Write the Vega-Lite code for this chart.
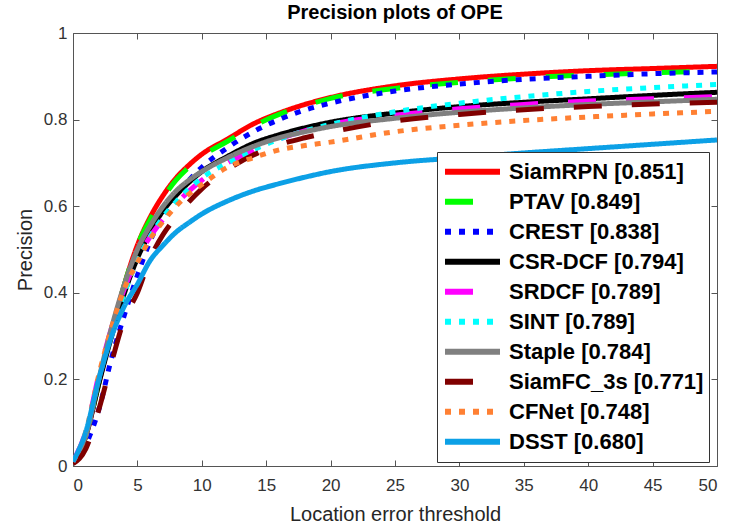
{
  "$schema": "https://vega.github.io/schema/vega-lite/v6.json",
  "width": 644,
  "height": 433,
  "autosize": {"type": "none"},
  "padding": {"left": 73, "top": 33, "right": 17, "bottom": 61},
  "title": {"text": "Precision plots of OPE", "font": "Liberation Sans", "fontSize": 20, "fontWeight": "bold", "color": "#000000", "offset": 1, "anchor": "middle"},
  "config": {
    "view": {"stroke": null},
    "font": "Liberation Sans",
    "legend": {
      "orient": "none", "legendX": 364, "legendY": 119,
      "strokeColor": "#333333", "fillColor": "#ffffff", "padding": 5, "cornerRadius": 0,
      "symbolType": "stroke", "symbolSize": 3025, "symbolStrokeWidth": 6,
      "labelFont": "Liberation Sans", "labelFontSize": 22, "labelFontWeight": "bold", "labelColor": "#000000",
      "labelOffset": 6, "clipHeight": 29.6, "rowPadding": 0, "labelLimit": 400
    }
  },
  "data": {"values": [
{"t":"SiamRPN [0.851]","x":0,"y":0.01},{"t":"SiamRPN [0.851]","x":1,"y":0.07},{"t":"SiamRPN [0.851]","x":2,"y":0.19},{"t":"SiamRPN [0.851]","x":3,"y":0.31},{"t":"SiamRPN [0.851]","x":4,"y":0.42},{"t":"SiamRPN [0.851]","x":5,"y":0.51},{"t":"SiamRPN [0.851]","x":6,"y":0.575},{"t":"SiamRPN [0.851]","x":7,"y":0.625},{"t":"SiamRPN [0.851]","x":8,"y":0.665},{"t":"SiamRPN [0.851]","x":9,"y":0.695},{"t":"SiamRPN [0.851]","x":10,"y":0.72},{"t":"SiamRPN [0.851]","x":12,"y":0.755},{"t":"SiamRPN [0.851]","x":14,"y":0.79},{"t":"SiamRPN [0.851]","x":16,"y":0.815},{"t":"SiamRPN [0.851]","x":18,"y":0.835},{"t":"SiamRPN [0.851]","x":20,"y":0.851},{"t":"SiamRPN [0.851]","x":25,"y":0.878},{"t":"SiamRPN [0.851]","x":30,"y":0.894},{"t":"SiamRPN [0.851]","x":35,"y":0.905},{"t":"SiamRPN [0.851]","x":40,"y":0.913},{"t":"SiamRPN [0.851]","x":45,"y":0.918},{"t":"SiamRPN [0.851]","x":50,"y":0.923},
{"t":"PTAV [0.849]","x":0,"y":0.01},{"t":"PTAV [0.849]","x":1,"y":0.07},{"t":"PTAV [0.849]","x":2,"y":0.19},{"t":"PTAV [0.849]","x":3,"y":0.31},{"t":"PTAV [0.849]","x":4,"y":0.42},{"t":"PTAV [0.849]","x":5,"y":0.51},{"t":"PTAV [0.849]","x":6,"y":0.57},{"t":"PTAV [0.849]","x":7,"y":0.62},{"t":"PTAV [0.849]","x":8,"y":0.66},{"t":"PTAV [0.849]","x":9,"y":0.69},{"t":"PTAV [0.849]","x":10,"y":0.715},{"t":"PTAV [0.849]","x":12,"y":0.75},{"t":"PTAV [0.849]","x":14,"y":0.785},{"t":"PTAV [0.849]","x":16,"y":0.812},{"t":"PTAV [0.849]","x":18,"y":0.832},{"t":"PTAV [0.849]","x":20,"y":0.849},{"t":"PTAV [0.849]","x":25,"y":0.872},{"t":"PTAV [0.849]","x":30,"y":0.886},{"t":"PTAV [0.849]","x":35,"y":0.896},{"t":"PTAV [0.849]","x":40,"y":0.903},{"t":"PTAV [0.849]","x":45,"y":0.908},{"t":"PTAV [0.849]","x":50,"y":0.912},
{"t":"CREST [0.838]","x":0,"y":0.01},{"t":"CREST [0.838]","x":1,"y":0.05},{"t":"CREST [0.838]","x":2,"y":0.13},{"t":"CREST [0.838]","x":3,"y":0.25},{"t":"CREST [0.838]","x":4,"y":0.35},{"t":"CREST [0.838]","x":5,"y":0.44},{"t":"CREST [0.838]","x":6,"y":0.52},{"t":"CREST [0.838]","x":7,"y":0.58},{"t":"CREST [0.838]","x":8,"y":0.625},{"t":"CREST [0.838]","x":9,"y":0.66},{"t":"CREST [0.838]","x":10,"y":0.69},{"t":"CREST [0.838]","x":12,"y":0.735},{"t":"CREST [0.838]","x":14,"y":0.772},{"t":"CREST [0.838]","x":16,"y":0.8},{"t":"CREST [0.838]","x":18,"y":0.822},{"t":"CREST [0.838]","x":20,"y":0.838},{"t":"CREST [0.838]","x":25,"y":0.866},{"t":"CREST [0.838]","x":30,"y":0.882},{"t":"CREST [0.838]","x":35,"y":0.893},{"t":"CREST [0.838]","x":40,"y":0.9},{"t":"CREST [0.838]","x":45,"y":0.906},{"t":"CREST [0.838]","x":50,"y":0.91},
{"t":"CSR-DCF [0.794]","x":0,"y":0.01},{"t":"CSR-DCF [0.794]","x":1,"y":0.07},{"t":"CSR-DCF [0.794]","x":2,"y":0.19},{"t":"CSR-DCF [0.794]","x":3,"y":0.3},{"t":"CSR-DCF [0.794]","x":4,"y":0.4},{"t":"CSR-DCF [0.794]","x":5,"y":0.48},{"t":"CSR-DCF [0.794]","x":6,"y":0.54},{"t":"CSR-DCF [0.794]","x":7,"y":0.59},{"t":"CSR-DCF [0.794]","x":8,"y":0.625},{"t":"CSR-DCF [0.794]","x":9,"y":0.655},{"t":"CSR-DCF [0.794]","x":10,"y":0.68},{"t":"CSR-DCF [0.794]","x":12,"y":0.715},{"t":"CSR-DCF [0.794]","x":14,"y":0.745},{"t":"CSR-DCF [0.794]","x":16,"y":0.765},{"t":"CSR-DCF [0.794]","x":18,"y":0.781},{"t":"CSR-DCF [0.794]","x":20,"y":0.794},{"t":"CSR-DCF [0.794]","x":25,"y":0.815},{"t":"CSR-DCF [0.794]","x":30,"y":0.83},{"t":"CSR-DCF [0.794]","x":35,"y":0.84},{"t":"CSR-DCF [0.794]","x":40,"y":0.848},{"t":"CSR-DCF [0.794]","x":45,"y":0.856},{"t":"CSR-DCF [0.794]","x":50,"y":0.863},
{"t":"SRDCF [0.789]","x":0,"y":0.01},{"t":"SRDCF [0.789]","x":1,"y":0.08},{"t":"SRDCF [0.789]","x":2,"y":0.21},{"t":"SRDCF [0.789]","x":3,"y":0.32},{"t":"SRDCF [0.789]","x":4,"y":0.41},{"t":"SRDCF [0.789]","x":5,"y":0.48},{"t":"SRDCF [0.789]","x":6,"y":0.53},{"t":"SRDCF [0.789]","x":7,"y":0.57},{"t":"SRDCF [0.789]","x":8,"y":0.605},{"t":"SRDCF [0.789]","x":9,"y":0.635},{"t":"SRDCF [0.789]","x":10,"y":0.66},{"t":"SRDCF [0.789]","x":12,"y":0.7},{"t":"SRDCF [0.789]","x":14,"y":0.73},{"t":"SRDCF [0.789]","x":16,"y":0.755},{"t":"SRDCF [0.789]","x":18,"y":0.774},{"t":"SRDCF [0.789]","x":20,"y":0.789},{"t":"SRDCF [0.789]","x":25,"y":0.81},{"t":"SRDCF [0.789]","x":30,"y":0.825},{"t":"SRDCF [0.789]","x":35,"y":0.835},{"t":"SRDCF [0.789]","x":40,"y":0.843},{"t":"SRDCF [0.789]","x":45,"y":0.848},{"t":"SRDCF [0.789]","x":50,"y":0.853},
{"t":"SINT [0.789]","x":0,"y":0.01},{"t":"SINT [0.789]","x":1,"y":0.07},{"t":"SINT [0.789]","x":2,"y":0.2},{"t":"SINT [0.789]","x":3,"y":0.31},{"t":"SINT [0.789]","x":4,"y":0.4},{"t":"SINT [0.789]","x":5,"y":0.475},{"t":"SINT [0.789]","x":6,"y":0.53},{"t":"SINT [0.789]","x":7,"y":0.575},{"t":"SINT [0.789]","x":8,"y":0.61},{"t":"SINT [0.789]","x":9,"y":0.64},{"t":"SINT [0.789]","x":10,"y":0.665},{"t":"SINT [0.789]","x":12,"y":0.7},{"t":"SINT [0.789]","x":14,"y":0.73},{"t":"SINT [0.789]","x":16,"y":0.755},{"t":"SINT [0.789]","x":18,"y":0.774},{"t":"SINT [0.789]","x":20,"y":0.789},{"t":"SINT [0.789]","x":25,"y":0.818},{"t":"SINT [0.789]","x":30,"y":0.838},{"t":"SINT [0.789]","x":35,"y":0.853},{"t":"SINT [0.789]","x":40,"y":0.865},{"t":"SINT [0.789]","x":45,"y":0.874},{"t":"SINT [0.789]","x":50,"y":0.881},
{"t":"Staple [0.784]","x":0,"y":0.01},{"t":"Staple [0.784]","x":1,"y":0.07},{"t":"Staple [0.784]","x":2,"y":0.2},{"t":"Staple [0.784]","x":3,"y":0.32},{"t":"Staple [0.784]","x":4,"y":0.42},{"t":"Staple [0.784]","x":5,"y":0.5},{"t":"Staple [0.784]","x":6,"y":0.555},{"t":"Staple [0.784]","x":7,"y":0.6},{"t":"Staple [0.784]","x":8,"y":0.635},{"t":"Staple [0.784]","x":9,"y":0.66},{"t":"Staple [0.784]","x":10,"y":0.68},{"t":"Staple [0.784]","x":12,"y":0.712},{"t":"Staple [0.784]","x":14,"y":0.738},{"t":"Staple [0.784]","x":16,"y":0.758},{"t":"Staple [0.784]","x":18,"y":0.772},{"t":"Staple [0.784]","x":20,"y":0.784},{"t":"Staple [0.784]","x":25,"y":0.803},{"t":"Staple [0.784]","x":30,"y":0.817},{"t":"Staple [0.784]","x":35,"y":0.827},{"t":"Staple [0.784]","x":40,"y":0.835},{"t":"Staple [0.784]","x":45,"y":0.841},{"t":"Staple [0.784]","x":50,"y":0.847},
{"t":"SiamFC_3s [0.771]","x":0,"y":0.005},{"t":"SiamFC_3s [0.771]","x":1,"y":0.04},{"t":"SiamFC_3s [0.771]","x":2,"y":0.13},{"t":"SiamFC_3s [0.771]","x":3,"y":0.24},{"t":"SiamFC_3s [0.771]","x":4,"y":0.34},{"t":"SiamFC_3s [0.771]","x":5,"y":0.4},{"t":"SiamFC_3s [0.771]","x":6,"y":0.48},{"t":"SiamFC_3s [0.771]","x":7,"y":0.535},{"t":"SiamFC_3s [0.771]","x":8,"y":0.575},{"t":"SiamFC_3s [0.771]","x":9,"y":0.61},{"t":"SiamFC_3s [0.771]","x":10,"y":0.64},{"t":"SiamFC_3s [0.771]","x":12,"y":0.685},{"t":"SiamFC_3s [0.771]","x":14,"y":0.718},{"t":"SiamFC_3s [0.771]","x":16,"y":0.742},{"t":"SiamFC_3s [0.771]","x":18,"y":0.758},{"t":"SiamFC_3s [0.771]","x":20,"y":0.771},{"t":"SiamFC_3s [0.771]","x":25,"y":0.797},{"t":"SiamFC_3s [0.771]","x":30,"y":0.812},{"t":"SiamFC_3s [0.771]","x":35,"y":0.823},{"t":"SiamFC_3s [0.771]","x":40,"y":0.83},{"t":"SiamFC_3s [0.771]","x":45,"y":0.836},{"t":"SiamFC_3s [0.771]","x":50,"y":0.84},
{"t":"CFNet [0.748]","x":0,"y":0.01},{"t":"CFNet [0.748]","x":1,"y":0.08},{"t":"CFNet [0.748]","x":2,"y":0.21},{"t":"CFNet [0.748]","x":3,"y":0.32},{"t":"CFNet [0.748]","x":4,"y":0.41},{"t":"CFNet [0.748]","x":5,"y":0.47},{"t":"CFNet [0.748]","x":6,"y":0.525},{"t":"CFNet [0.748]","x":7,"y":0.565},{"t":"CFNet [0.748]","x":8,"y":0.6},{"t":"CFNet [0.748]","x":9,"y":0.628},{"t":"CFNet [0.748]","x":10,"y":0.65},{"t":"CFNet [0.748]","x":12,"y":0.69},{"t":"CFNet [0.748]","x":14,"y":0.712},{"t":"CFNet [0.748]","x":16,"y":0.73},{"t":"CFNet [0.748]","x":18,"y":0.74},{"t":"CFNet [0.748]","x":20,"y":0.748},{"t":"CFNet [0.748]","x":25,"y":0.772},{"t":"CFNet [0.748]","x":30,"y":0.787},{"t":"CFNet [0.748]","x":35,"y":0.798},{"t":"CFNet [0.748]","x":40,"y":0.806},{"t":"CFNet [0.748]","x":45,"y":0.813},{"t":"CFNet [0.748]","x":50,"y":0.819},
{"t":"DSST [0.680]","x":0,"y":0.01},{"t":"DSST [0.680]","x":1,"y":0.08},{"t":"DSST [0.680]","x":2,"y":0.2},{"t":"DSST [0.680]","x":3,"y":0.3},{"t":"DSST [0.680]","x":4,"y":0.37},{"t":"DSST [0.680]","x":5,"y":0.42},{"t":"DSST [0.680]","x":6,"y":0.475},{"t":"DSST [0.680]","x":7,"y":0.51},{"t":"DSST [0.680]","x":8,"y":0.54},{"t":"DSST [0.680]","x":9,"y":0.562},{"t":"DSST [0.680]","x":10,"y":0.582},{"t":"DSST [0.680]","x":12,"y":0.612},{"t":"DSST [0.680]","x":14,"y":0.635},{"t":"DSST [0.680]","x":16,"y":0.652},{"t":"DSST [0.680]","x":18,"y":0.667},{"t":"DSST [0.680]","x":20,"y":0.68},{"t":"DSST [0.680]","x":25,"y":0.7},{"t":"DSST [0.680]","x":30,"y":0.712},{"t":"DSST [0.680]","x":35,"y":0.723},{"t":"DSST [0.680]","x":40,"y":0.733},{"t":"DSST [0.680]","x":45,"y":0.743},{"t":"DSST [0.680]","x":50,"y":0.753}
  ]},
  "layer": [
    {
      "mark": {"type": "line", "strokeWidth": 5, "interpolate": "monotone", "strokeCap": "butt", "clip": true},
      "encoding": {
        "x": {"field": "x", "type": "quantitative", "scale": {"domain": [0, 50], "nice": false},
          "axis": {"orient": "bottom", "values": [0,5,10,15,20,25,30,35,40,45,50], "grid": false, "tickSize": -6, "labelPadding": 17,
            "domainColor": "#555555", "tickColor": "#555555", "labelFontSize": 17, "labelColor": "#333333", "labelFont": "Liberation Sans",
            "title": "Location error threshold", "titleFontSize": 20, "titleFontWeight": "normal", "titleColor": "#262626", "titleFont": "Liberation Sans", "titlePadding": 11}},
        "y": {"field": "y", "type": "quantitative", "scale": {"domain": [0, 1], "nice": false},
          "axis": {"orient": "left", "values": [0,0.2,0.4,0.6,0.8,1], "format": "~g", "grid": false, "tickSize": -6, "labelPadding": 12,
            "domainColor": "#555555", "tickColor": "#555555", "labelFontSize": 17, "labelColor": "#333333", "labelFont": "Liberation Sans",
            "title": "Precision", "titleFontSize": 20, "titleFontWeight": "normal", "titleColor": "#262626", "titleFont": "Liberation Sans", "titlePadding": 8}},
        "color": {"field": "t", "type": "nominal", "sort": null, "title": null,
          "scale": {"domain": ["SiamRPN [0.851]","PTAV [0.849]","CREST [0.838]","CSR-DCF [0.794]","SRDCF [0.789]","SINT [0.789]","Staple [0.784]","SiamFC_3s [0.771]","CFNet [0.748]","DSST [0.680]"],
            "range": ["#ff0000","#00ff00","#0000ff","#000000","#ff00ff","#00ffff","#808080","#800000","#ff8033","#0ca0e6"]}},
        "strokeDash": {"field": "t", "type": "nominal", "sort": null, "title": null,
          "scale": {"domain": ["SiamRPN [0.851]","PTAV [0.849]","CREST [0.838]","CSR-DCF [0.794]","SRDCF [0.789]","SINT [0.789]","Staple [0.784]","SiamFC_3s [0.771]","CFNet [0.748]","DSST [0.680]"],
            "range": [[1,0],[28,30],[6,8],[1,0],[28,30],[6,8],[1,0],[28,30],[6,8],[1,0]]}}
      }
    },
    {
      "mark": {"type": "point", "opacity": 0},
      "encoding": {
        "x": {"field": "x", "type": "quantitative", "scale": {"domain": [0, 50], "nice": false},
          "axis": {"orient": "top", "values": [0,5,10,15,20,25,30,35,40,45,50], "grid": false, "labels": false, "title": null, "tickSize": -6, "domainColor": "#555555", "tickColor": "#555555"}},
        "y": {"field": "y", "type": "quantitative", "scale": {"domain": [0, 1], "nice": false},
          "axis": {"orient": "right", "values": [0,0.2,0.4,0.6,0.8,1], "grid": false, "labels": false, "title": null, "tickSize": -6, "domainColor": "#555555", "tickColor": "#555555"}}
      }
    }
  ],
  "resolve": {"axis": {"x": "independent", "y": "independent"}}
}
